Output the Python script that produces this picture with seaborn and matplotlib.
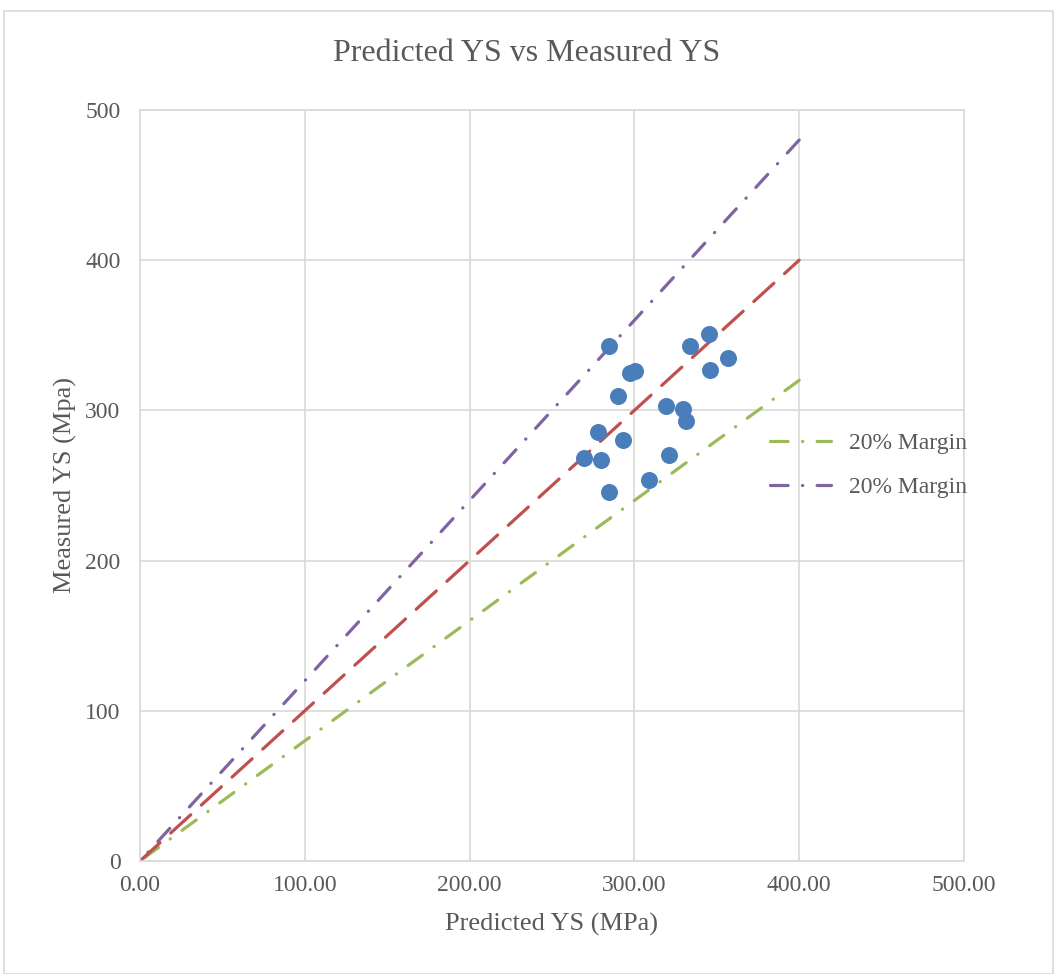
"""
Predicted vs measured yield strength, with the 1:1 line and +/-20% margins.
"""

import matplotlib.pyplot as plt
import matplotlib.patches as mpatches
import seaborn as sns
import pandas as pd

# Measured points
predicted_ys = [284.8, 333.9, 345.3, 356.8, 346.1, 297.6, 300.2, 289.9, 319.2,
                329.7, 331.3, 278.2, 293.2, 269.7, 279.8, 321.0, 309.1, 284.4]
measured_ys = [342.6, 342.6, 350.8, 334.9, 326.7, 324.9, 326.5, 309.9, 302.8,
               301.0, 292.8, 285.7, 280.0, 268.5, 266.7, 270.0, 253.7, 245.7]

# Reference lines
line_x = [0, 400]
ideal_y = [0, 400]
lower_y = [0, 320]
upper_y = [0, 480]

x_ticks = [0, 100, 200, 300, 400, 500]
y_ticks = [0, 100, 200, 300, 400, 500]

TEXT = "#595959"
GRID = "#D9D9D9"
DASH_DOT = (0, (5.5, 4.5, 0.1, 4.5))


def main():
    sns.set_style("whitegrid", {"grid.color": GRID, "axes.edgecolor": GRID})
    plt.rcParams["font.family"] = ["Liberation Serif", "DejaVu Serif"]

    fig = plt.figure(figsize=(10.54, 9.74), dpi=100)
    ax = fig.add_axes([0.1328, 0.1160, 0.7818, 0.7711])

    # Chart border
    fig.patches.append(mpatches.Rectangle(
        (0.004, 0.0), 0.995, 0.989, transform=fig.transFigure,
        fill=False, edgecolor=GRID, linewidth=1.2))

    pts = pd.DataFrame({"pred": predicted_ys, "meas": measured_ys})

    # drawn from the top end down so the dash pattern starts at x=400
    sns.lineplot(x=line_x[::-1], y=lower_y[::-1], ax=ax, sort=False,
                 color="#9BBB59", linewidth=2.3, linestyle=DASH_DOT,
                 dash_capstyle="round", label="20% Margin")
    sns.lineplot(x=line_x[::-1], y=upper_y[::-1], ax=ax, sort=False,
                 color="#8064A2", linewidth=2.3, linestyle=DASH_DOT,
                 dash_capstyle="round", label="20% Margin")
    sns.lineplot(x=line_x, y=ideal_y, ax=ax, color="#C0504D", linewidth=2.3,
                 linestyle=(0, (8.5, 4.5)), dash_capstyle="round", legend=False)
    sns.scatterplot(data=pts, x="pred", y="meas", ax=ax, color="#4A7EBB",
                    s=150, edgecolor="#4A7EBB", linewidth=0, zorder=5,
                    legend=False)

    ax.set_xlim(0, 500)
    ax.set_ylim(0, 500)
    ax.set_xticks(x_ticks)
    ax.set_yticks(y_ticks)
    ax.set_xticklabels([f"{v:.2f}" for v in x_ticks])
    ax.set_yticklabels([str(v) for v in y_ticks])
    ax.tick_params(axis="both", length=0, labelsize=17, colors=TEXT)
    ax.tick_params(axis="x", pad=10)
    ax.tick_params(axis="y", pad=14)
    for spine in ax.spines.values():
        spine.set_color(GRID)
        spine.set_linewidth(1.2)
    ax.grid(True, color=GRID, linewidth=1.2)

    ax.set_xlabel("Predicted YS (MPa)", fontsize=19, color=TEXT, labelpad=12)
    ax.set_ylabel("Measured YS (Mpa)", fontsize=19, color=TEXT, labelpad=6)
    fig.text(0.5, 0.945, "Predicted YS vs Measured YS", ha="center",
             va="center", fontsize=23, color=TEXT)

    leg = ax.legend(loc="upper left", bbox_to_anchor=(0.710, 0.578),
                    bbox_transform=fig.transFigure, frameon=False,
                    fontsize=17, handlelength=2.6, handletextpad=0.75,
                    labelspacing=0.95)
    for txt in leg.get_texts():
        txt.set_color(TEXT)

    plt.savefig("out.png", dpi=100)
    plt.close()


if __name__ == "__main__":
    main()
